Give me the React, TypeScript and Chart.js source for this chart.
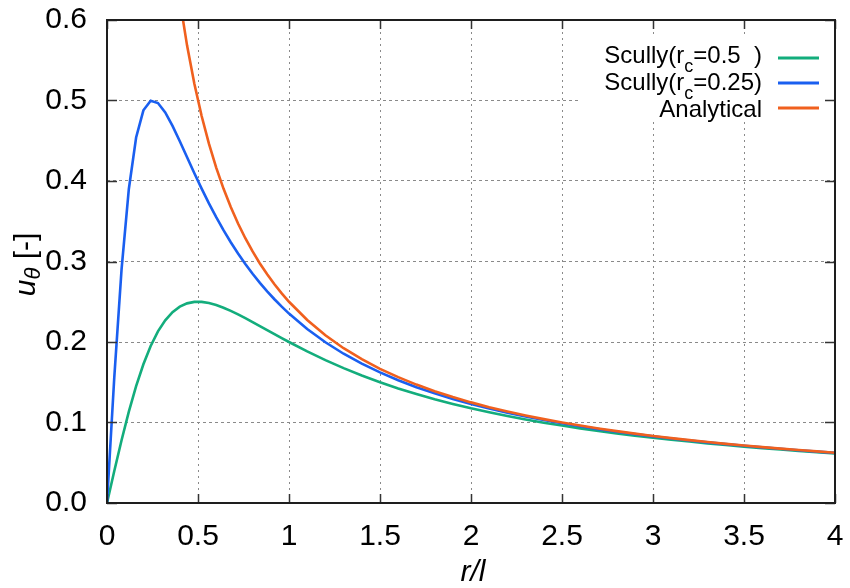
import React, { useEffect, useRef } from "react";
import { Chart, registerables } from "chart.js";

Chart.register(...registerables);

// r/l sample positions
const rValues = [
  0, 0.04, 0.08, 0.12, 0.16, 0.2, 0.24, 0.28, 0.32, 0.36, 0.4, 0.44, 0.48, 0.52,
  0.56, 0.6, 0.64, 0.68, 0.72, 0.76, 0.8, 0.84, 0.88, 0.92, 0.96, 1.0,
  1.1, 1.2, 1.3, 1.4, 1.5, 1.6, 1.7, 1.8, 1.9, 2.0, 2.1, 2.2, 2.3, 2.4, 2.5,
  2.6, 2.7, 2.8, 2.9, 3.0, 3.1, 3.2, 3.3, 3.4, 3.5, 3.6, 3.7, 3.8, 3.9, 4.0,
];

// Scully (rc = 0.5)
const scullyRc050 = [
  0, 0.0397, 0.078, 0.1135, 0.1451, 0.1724, 0.1951, 0.2132, 0.227, 0.2371,
  0.2439, 0.248, 0.2498, 0.2498, 0.2484, 0.2459, 0.2426, 0.2386, 0.2343,
  0.2296, 0.2247, 0.2198, 0.2148, 0.2098, 0.2048, 0.2,
  0.1884, 0.1775, 0.1675, 0.1584, 0.15, 0.1423, 0.1354, 0.1289, 0.1231,
  0.1176, 0.1127, 0.1081, 0.1038, 0.0998, 0.0962, 0.0927, 0.0895, 0.0865,
  0.0837, 0.0811, 0.0786, 0.0763, 0.0741, 0.072, 0.07, 0.0681, 0.0664,
  0.0647, 0.0631, 0.0615,
];

// Scully (rc = 0.25)
const scullyRc025 = [
  0, 0.156, 0.2903, 0.3901, 0.454, 0.4878, 0.4996, 0.4968, 0.4851, 0.4685,
  0.4494, 0.4295, 0.4097, 0.3905, 0.3722, 0.355, 0.3389, 0.3239, 0.3099,
  0.2968, 0.2847, 0.2734, 0.2629, 0.2531, 0.2439, 0.2353,
  0.2161, 0.1997, 0.1854, 0.1731, 0.1622, 0.1525, 0.1439, 0.1363, 0.1293,
  0.1231, 0.1174, 0.1122, 0.1074, 0.103, 0.099, 0.0953, 0.0918, 0.0886,
  0.0856, 0.0828, 0.0801, 0.0777, 0.0753, 0.0731, 0.0711, 0.0691, 0.0673,
  0.0655, 0.0638, 0.0623,
];

// Analytical (off the top of the chart for small r)
const analytical = [
  null, null, null, null, null, null, null, null, null, null,
  0.625, 0.5682, 0.5208, 0.4808, 0.4464, 0.4167, 0.3906, 0.3676, 0.3472,
  0.3289, 0.3125, 0.2976, 0.2841, 0.2717, 0.2604, 0.25,
  0.2273, 0.2083, 0.1923, 0.1786, 0.1667, 0.1563, 0.1471, 0.1389, 0.1316,
  0.125, 0.119, 0.1136, 0.1087, 0.1042, 0.1, 0.0962, 0.0926, 0.0893,
  0.0862, 0.0833, 0.0806, 0.0781, 0.0758, 0.0735, 0.0714, 0.0694, 0.0676,
  0.0658, 0.0641, 0.0625,
];

const xTicks = [0, 0.5, 1, 1.5, 2, 2.5, 3, 3.5, 4];
const yTicks = [0, 0.1, 0.2, 0.3, 0.4, 0.5, 0.6];
const xTickLabels = ["0", "0.5", "1", "1.5", "2", "2.5", "3", "3.5", "4"];
const yTickLabels = ["0.0", "0.1", "0.2", "0.3", "0.4", "0.5", "0.6"];

const COLORS = { green: "#13ad7c", blue: "#1a5ff0", orange: "#f0601e" };
const FONT = '"Liberation Sans", Arial, Helvetica, sans-serif';

type Part = { t: string; font: string; dy: number };

const legendRows: { parts: Part[]; color: string }[] = [
  {
    parts: [
      { t: "Scully(r", font: `24px ${FONT}`, dy: 0 },
      { t: "c", font: `18px ${FONT}`, dy: 9 },
      { t: "=0.5  )", font: `24px ${FONT}`, dy: 0 },
    ],
    color: COLORS.green,
  },
  {
    parts: [
      { t: "Scully(r", font: `24px ${FONT}`, dy: 0 },
      { t: "c", font: `18px ${FONT}`, dy: 9 },
      { t: "=0.25)", font: `24px ${FONT}`, dy: 0 },
    ],
    color: COLORS.blue,
  },
  {
    parts: [{ t: "Analytical", font: `24px ${FONT}`, dy: 0 }],
    color: COLORS.orange,
  },
];

function drawParts(ctx: CanvasRenderingContext2D, parts: Part[], startX: number, baseY: number) {
  let x = startX;
  for (const p of parts) {
    ctx.font = p.font;
    ctx.fillText(p.t, x, baseY + p.dy);
    x += ctx.measureText(p.t).width;
  }
}
function partsWidth(ctx: CanvasRenderingContext2D, parts: Part[]) {
  let w = 0;
  for (const p of parts) {
    ctx.font = p.font;
    w += ctx.measureText(p.t).width;
  }
  return w;
}

const framePlugin = {
  id: "gnuplotFrame",
  afterDatasetsDraw(chart: any) {
    const { ctx, chartArea: a } = chart;
    ctx.save();
    // opaque key box
    const boxLeft = a.right - 255;
    const boxTop = a.top + 17;
    ctx.fillStyle = "#ffffff";
    ctx.fillRect(boxLeft, boxTop, a.right - boxLeft, 83);
    ctx.fillStyle = "#000";
    ctx.textBaseline = "alphabetic";
    const textRight = a.right - 73;
    legendRows.forEach((row, i) => {
      const base = a.top + 43 + i * 27;
      const w = partsWidth(ctx, row.parts);
      drawParts(ctx, row.parts, textRight - w, base);
      const ly = a.top + 38 + i * 25;
      ctx.strokeStyle = row.color;
      ctx.lineWidth = 3;
      ctx.beginPath();
      ctx.moveTo(a.right - 57, ly);
      ctx.lineTo(a.right - 16, ly);
      ctx.stroke();
    });
    ctx.restore();
  },
  afterDraw(chart: any) {
    const { ctx, chartArea: a, scales } = chart;
    ctx.save();
    // inward tick marks on all four sides
    ctx.strokeStyle = "#333";
    ctx.lineWidth = 1.5;
    ctx.beginPath();
    xTicks.forEach((v) => {
      const px = Math.round(scales.x.getPixelForValue(v)) + 0.5;
      ctx.moveTo(px, a.bottom);
      ctx.lineTo(px, a.bottom - 9);
      ctx.moveTo(px, a.top);
      ctx.lineTo(px, a.top + 9);
    });
    yTicks.forEach((v) => {
      const py = Math.round(scales.y.getPixelForValue(v)) + 0.5;
      ctx.moveTo(a.left, py);
      ctx.lineTo(a.left + 10, py);
      ctx.moveTo(a.right, py);
      ctx.lineTo(a.right - 10, py);
    });
    ctx.stroke();
    // frame
    ctx.strokeStyle = "#1e1e1e";
    ctx.lineWidth = 2;
    ctx.strokeRect(a.left, a.top, a.right - a.left, a.bottom - a.top);

    // axis titles
    ctx.fillStyle = "#000";
    ctx.textBaseline = "alphabetic";
    ctx.font = `italic 30px ${FONT}`;
    ctx.textAlign = "center";
    ctx.fillText("r/l", (a.left + a.right) / 2 + 2, 581);

    ctx.textAlign = "left";
    const yParts: Part[] = [
      { t: "u", font: `italic 30px ${FONT}`, dy: 0 },
      { t: "θ", font: `italic 22px ${FONT}`, dy: 5 },
      { t: " [-]", font: `30px ${FONT}`, dy: 0 },
    ];
    ctx.translate(35, (a.top + a.bottom) / 2 + 3);
    ctx.rotate(-Math.PI / 2);
    const w = partsWidth(ctx, yParts);
    drawParts(ctx, yParts, -w / 2, 0);
    ctx.restore();
  },
};

export default function App() {
  const canvasRef = useRef<HTMLCanvasElement | null>(null);

  useEffect(() => {
    if (!canvasRef.current) return;
    const toPoints = (ys: (number | null)[]) =>
      rValues.map((x, i) => ({ x, y: ys[i] }));

    const chart = new Chart(canvasRef.current, {
      type: "line",
      data: {
        datasets: [
          {
            label: "Scully(rc=0.5 )",
            data: toPoints(scullyRc050),
            borderColor: COLORS.green,
            borderWidth: 2.6,
            pointRadius: 0,
            tension: 0,
            order: 2,
          },
          {
            label: "Scully(rc=0.25)",
            data: toPoints(scullyRc025),
            borderColor: COLORS.blue,
            borderWidth: 2.6,
            pointRadius: 0,
            tension: 0,
            order: 1,
          },
          {
            label: "Analytical",
            data: toPoints(analytical),
            borderColor: COLORS.orange,
            borderWidth: 2.6,
            pointRadius: 0,
            tension: 0,
            spanGaps: false,
            order: 0,
          },
        ],
      },
      options: {
        animation: false,
        responsive: true,
        maintainAspectRatio: false,
        devicePixelRatio: 1,
        layout: { padding: { top: 20, right: 15, left: 0, bottom: 0 } },
        plugins: {
          legend: { display: false },
          tooltip: { enabled: false },
          title: { display: false },
        },
        scales: {
          x: {
            type: "linear",
            min: 0,
            max: 4,
            afterBuildTicks: (scale: any) => {
              scale.ticks = xTicks.map((v) => ({ value: v }));
            },
            afterFit: (scale: any) => {
              scale.height = 85;
              scale.paddingLeft = 0;
              scale.paddingRight = 0;
            },
            ticks: {
              autoSkip: false,
              maxRotation: 0,
              padding: 16,
              color: "#000",
              font: { family: FONT, size: 30 },
              callback: (_v: any, i: number) => xTickLabels[i],
            },
            grid: { color: "#8a8a8a", lineWidth: 1, drawTicks: false },
            border: { display: false, dash: [2, 4] },
          },
          y: {
            type: "linear",
            min: 0,
            max: 0.6,
            afterBuildTicks: (scale: any) => {
              scale.ticks = yTicks.map((v) => ({ value: v }));
            },
            afterFit: (scale: any) => {
              scale.width = 107;
              scale.paddingTop = 0;
              scale.paddingBottom = 0;
            },
            ticks: {
              autoSkip: false,
              padding: 20,
              color: "#000",
              font: { family: FONT, size: 30 },
              callback: (_v: any, i: number) => yTickLabels[i],
            },
            grid: { color: "#8a8a8a", lineWidth: 1, drawTicks: false },
            border: { display: false, dash: [3, 3] },
          },
        },
      },
      plugins: [framePlugin],
    });
    return () => chart.destroy();
  }, []);

  return (
    <div style={{ position: "absolute", left: 0, top: 0, width: 850, height: 588, background: "#fff" }}>
      <canvas ref={canvasRef} />
    </div>
  );
}
